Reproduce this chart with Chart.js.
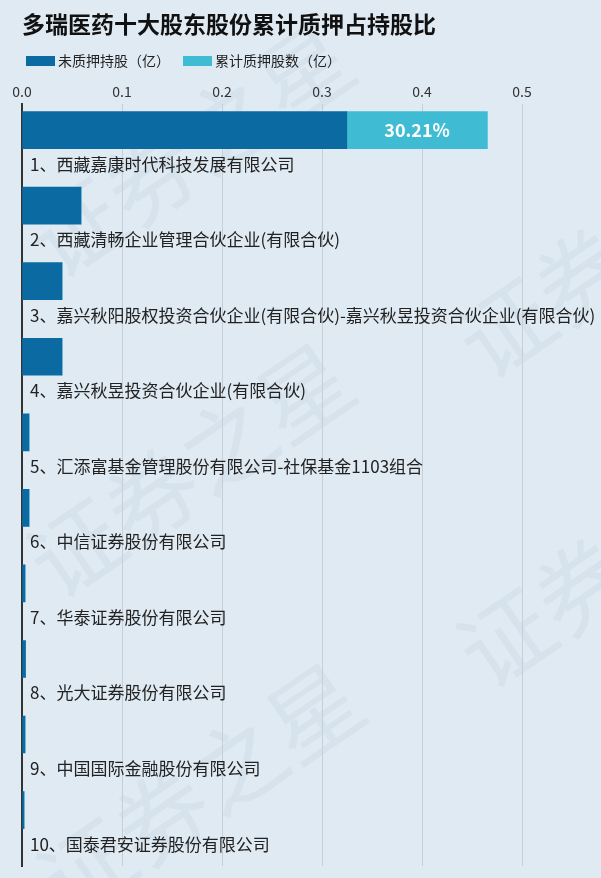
<!DOCTYPE html>
<html>
<head>
<meta charset="utf-8">
<script src="https://cdn.jsdelivr.net/npm/chart.js@4/dist/chart.umd.min.js"></script>
<style>
  html, body { margin: 0; padding: 0; background: #dfeaf3; }
  #wrap { width: 601px; height: 878px; }
</style>
</head>
<body>
<div id="wrap"><canvas id="pledgeChart"></canvas></div>
<script>
// 十大股东
const holders = [
  '1、西藏嘉康时代科技发展有限公司',
  '2、西藏清畅企业管理合伙企业(有限合伙)',
  '3、嘉兴秋阳股权投资合伙企业(有限合伙)-嘉兴秋昱投资合伙企业(有限合伙)',
  '4、嘉兴秋昱投资合伙企业(有限合伙)',
  '5、汇添富基金管理股份有限公司-社保基金1103组合',
  '6、中信证券股份有限公司',
  '7、华泰证券股份有限公司',
  '8、光大证券股份有限公司',
  '9、中国国际金融股份有限公司',
  '10、国泰君安证券股份有限公司'
]
// 未质押持股（亿）
const unpledged = [0.3248, 0.059, 0.040, 0.040, 0.007, 0.007, 0.003, 0.0035, 0.003, 0.002]
// 累计质押股数（亿）
const pledged = [0.1406, 0, 0, 0, 0, 0, 0, 0, 0, 0]

const FONT = '"Noto Sans CJK SC", "Noto Sans", sans-serif'
const DARK = '#0b6aa2'
const CYAN = '#3fbcd3'

// background + watermark
const bgPlugin = {
  id: 'bg',
  beforeDraw(chart) {
    const ctx = chart.ctx
    ctx.save()
    ctx.fillStyle = '#dfeaf3'
    ctx.fillRect(0, 0, chart.width, chart.height)
    ctx.font = '92px ' + FONT
    ctx.fillStyle = 'rgba(140, 160, 180, 0.10)'
    ctx.textAlign = 'center'
    ctx.textBaseline = 'middle'
    const spots = [[190, 150], [620, 250], [190, 470], [620, 560], [200, 790]]
    spots.forEach(([x, y]) => {
      ctx.save()
      ctx.translate(x, y)
      ctx.rotate(-0.6)
      ctx.fillText('证券之星', 0, 0)
      ctx.restore()
    })
    ctx.restore()
  }
}

// legend drawn by hand (tight box/text spacing)
const legendPlugin = {
  id: 'miniLegend',
  afterDraw(chart) {
    const ctx = chart.ctx
    ctx.save()
    ctx.font = '14px ' + FONT
    ctx.textBaseline = 'middle'
    let x = 26
    const y = 61
    chart.data.datasets.forEach((ds) => {
      ctx.fillStyle = ds.backgroundColor
      ctx.fillRect(x, y - 5, 29, 10)
      ctx.fillStyle = '#222'
      ctx.fillText(ds.label, x + 32, y)
      x += 32 + ctx.measureText(ds.label).width + 13
    })
    ctx.restore()
  }
}

// percentage label in the pledged segment
const pctPlugin = {
  id: 'pct',
  afterDatasetsDraw(chart) {
    const ctx = chart.ctx
    const meta = chart.getDatasetMeta(1)
    ctx.save()
    ctx.fillStyle = '#ffffff'
    ctx.font = 'bold 18px ' + FONT
    ctx.textAlign = 'center'
    ctx.textBaseline = 'middle'
    meta.data.forEach((bar, i) => {
      if (!pledged[i]) return
      const pct = (pledged[i] / (pledged[i] + unpledged[i])) * 100
      ctx.fillText(pct.toFixed(2) + '%', (bar.x + bar.base) / 2, bar.y)
    })
    ctx.restore()
  }
}

const ctx = document.getElementById('pledgeChart').getContext('2d')

const pledgeChart = new Chart(ctx, {
  type: 'bar',
  data: {
    datasets: [
      {
        label: '未质押持股（亿）',
        data: unpledged.map((v, i) => ({ x: v, y: i })),
        backgroundColor: DARK,
        barThickness: 37
      },
      {
        label: '累计质押股数（亿）',
        data: pledged.map((v, i) => ({ x: v, y: i })),
        backgroundColor: CYAN,
        barThickness: 37
      }
    ]
  },
  options: {
    indexAxis: 'y',
    responsive: true,
    maintainAspectRatio: false,
    animation: false,
    layout: { padding: { left: 22, right: 0, top: 0, bottom: 12 } },
    plugins: {
      title: {
        display: true,
        text: '多瑞医药十大股东股份累计质押占持股比',
        align: 'start',
        color: '#111',
        font: { family: FONT, size: 23, weight: 'bold' },
        padding: { top: 10, bottom: 42 }
      },
      legend: { display: false },
      tooltip: { enabled: false }
    },
    scales: {
      x: {
        type: 'linear',
        position: 'top',
        stacked: true,
        min: 0,
        max: 0.579,
        afterBuildTicks: (scale) => {
          scale.ticks = scale.ticks.filter(
            (t) => Math.abs(t.value * 10 - Math.round(t.value * 10)) < 1e-6
          )
        },
        ticks: {
          stepSize: 0.1,
          color: '#333',
          font: { family: FONT, size: 14 },
          padding: 4,
          callback: (v) => v.toFixed(1)
        },
        grid: { color: '#c6cfd8', lineWidth: 1, drawTicks: false },
        border: { display: false }
      },
      y: {
        type: 'linear',
        reverse: true,
        stacked: true,
        offset: false,
        min: -0.34,
        max: 9.74,
        afterBuildTicks: (scale) => {
          scale.ticks = holders.map((n, i) => ({ value: i }))
        },
        afterFit: (scale) => {
          // labels sit inside the plot, under each bar
          scale.width = 0
          scale.paddingTop = 0
          scale.paddingBottom = 0
        },
        ticks: {
          mirror: true,
          padding: 8,
          labelOffset: 34,
          color: '#222',
          font: { family: FONT, size: 17 },
          callback: (v) => holders[v]
        },
        grid: { display: false, drawTicks: false },
        border: { display: true, color: '#333', width: 2 }
      }
    }
  },
  plugins: [bgPlugin, legendPlugin, pctPlugin]
})
</script>
</body>
</html>
